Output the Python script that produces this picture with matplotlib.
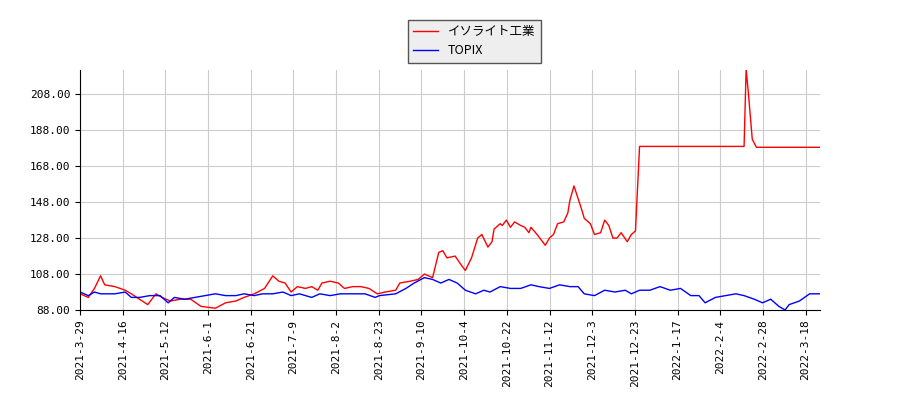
import numpy as np
import matplotlib
matplotlib.use("Agg")
import matplotlib.pyplot as plt

# positions along the (trading-day) axis, and values
red_days = [0, 4, 7, 10, 12, 17, 22, 25, 29, 33, 37, 40, 44, 49, 54, 59, 66, 71, 76, 80,
            85, 90, 94, 97, 100, 103, 106, 110, 113, 116, 118, 122, 126, 129, 133, 137, 141,
            145, 149, 154, 156, 161, 165, 168, 172, 175, 177, 179, 183, 186, 188, 191, 194,
            196, 199, 201, 202, 205, 206, 208, 210, 212, 215, 217, 219, 220, 223, 225, 227,
            229, 231, 233, 236, 238, 239, 241, 243, 245, 246, 249, 251, 254, 256, 258, 260,
            262, 264, 267, 269, 271, 273, 293, 312, 324, 325, 326, 328, 330, 346, 361]
red_vals = [97, 95, 100, 107, 102, 101, 99, 97, 94, 91, 97, 95, 93, 94, 94, 90, 89, 92, 93, 95,
            97, 100, 107, 104, 103, 98, 101, 100, 101, 99, 103, 104, 103, 100, 101, 101, 100,
            97, 98, 99, 103, 104, 105, 108, 106, 120, 121, 117, 118, 113, 110, 117, 128,
            130, 123, 126, 133, 136, 135, 138, 134, 137, 135, 134, 131, 134, 130, 127, 124,
            128, 130, 136, 137, 142, 149, 157, 150, 143, 139, 136, 130, 131, 138, 135, 128,
            128, 131, 126, 130, 132, 179, 179, 179, 179, 222, 210, 183, 178.5, 178.5, 178.5]

blue_days = [0, 4, 7, 10, 17, 22, 25, 29, 34, 39, 43, 46, 51, 56, 61, 66, 71, 76, 80, 85, 89,
             94, 99, 103, 107, 113, 117, 122, 127, 134, 139, 144, 146, 154, 159, 163, 168, 172,
             176, 180, 184, 188, 193, 197, 200, 205, 210, 215, 220, 224, 229, 234, 239, 243,
             246, 251, 256, 261, 266, 269, 273, 278, 283, 288, 293, 298, 302, 305, 310, 315,
             320, 324, 329, 333, 337, 341, 344, 346, 351, 356, 361]
blue_vals = [98, 96, 98, 97, 97, 98, 95, 95, 96, 96, 92, 95, 94, 95, 96, 97, 96, 96, 97, 96, 97,
             97, 98, 96, 97, 95, 97, 96, 97, 97, 97, 95, 96, 97, 100, 103, 106, 105,
             103, 105, 103, 99, 97, 99, 98, 101, 100, 100, 102, 101, 100, 102, 101, 101,
             97, 96, 99, 98, 99, 97, 99, 99, 101, 99, 100, 96, 96, 92, 95, 96,
             97, 96, 94, 92, 94, 90, 88, 91, 93, 97, 97]

tick_labels = ["2021-3-29", "2021-4-16", "2021-5-12", "2021-6-1", "2021-6-21", "2021-7-9",
               "2021-8-2", "2021-8-23", "2021-9-10", "2021-10-4", "2021-10-22", "2021-11-12",
               "2021-12-3", "2021-12-23", "2022-1-17", "2022-2-4", "2022-2-28", "2022-3-18"]

fig = plt.figure(figsize=(9, 4), dpi=100)
ax = fig.add_axes([0.089, 0.225, 0.822, 0.6])
l1, = ax.plot(red_days, red_vals, color="red", lw=1, label="イソライト工業")
l2, = ax.plot(blue_days, blue_vals, color="blue", lw=1, label="TOPIX")

ticks = np.arange(len(tick_labels)) * 354 / 17
ax.set_xticks(ticks)
ax.set_xticklabels(tick_labels, rotation=90, family="DejaVu Sans Mono", fontsize=8)
ax.set_xlim(0, 361)
ax.set_ylim(88, 221.5)
ax.set_yticks(np.arange(88, 209, 20))
ax.set_yticklabels([f"{v:.2f}" for v in np.arange(88, 209, 20)], family="DejaVu Sans Mono", fontsize=8)
ax.grid(True, color="#cccccc", lw=0.8)
ax.spines["top"].set_visible(False)
ax.spines["right"].set_visible(False)

fig.legend(handles=[l1, l2], loc="upper center", bbox_to_anchor=(0.527, 0.965),
           prop={"family": ["Noto Sans CJK JP", "DejaVu Sans Mono"], "size": 9},
           fancybox=False, edgecolor="#555555", facecolor="#eeeeee", framealpha=1)

fig.savefig("out.png")
